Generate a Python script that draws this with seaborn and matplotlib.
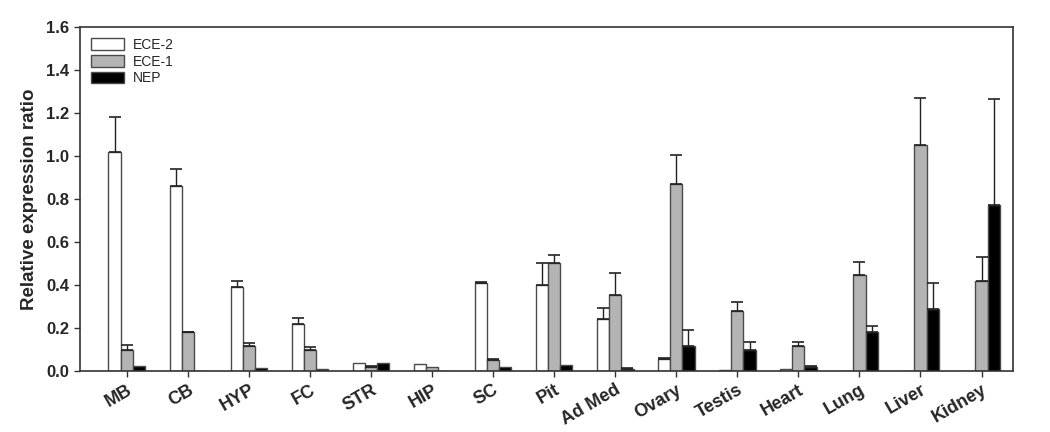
import numpy as np
import pandas as pd
import matplotlib
matplotlib.use("Agg")
import matplotlib.pyplot as plt
import seaborn as sns

# ── Data ──────────────────────────────────────────────────────────────────────
tissues = ["MB", "CB", "HYP", "FC", "STR", "HIP", "SC", "Pit", "Ad Med",
           "Ovary", "Testis", "Heart", "Lung", "Liver", "Kidney"]
series = ["ECE-2", "ECE-1", "NEP"]

ece2 = [1.02, 0.86, 0.39, 0.22, 0.038, 0.035, 0.41, 0.40, 0.24,
        0.055, 0.005, 0.012, 0.002, 0.0, 0.002]
ece1 = [0.10, 0.18, 0.115, 0.10, 0.02, 0.02, 0.05, 0.50, 0.355,
        0.87, 0.28, 0.115, 0.445, 1.05, 0.42]
nep = [0.025, 0.002, 0.015, 0.008, 0.038, 0.002, 0.02, 0.028, 0.01,
       0.115, 0.10, 0.02, 0.18, 0.29, 0.77]

# upper error (SEM) for each bar
ece2_err = [0.16, 0.08, 0.03, 0.025, 0.0, 0.0, 0.005, 0.10, 0.055,
            0.008, 0.0, 0.0, 0.0, 0.0, 0.0]
ece1_err = [0.02, 0.002, 0.015, 0.01, 0.005, 0.0, 0.005, 0.04, 0.10,
            0.135, 0.04, 0.02, 0.06, 0.22, 0.11]
nep_err = [0.0, 0.0, 0.0, 0.0, 0.0, 0.0, 0.0, 0.0, 0.005,
           0.075, 0.035, 0.005, 0.03, 0.12, 0.495]

COLORS = {"ECE-2": "#ffffff", "ECE-1": "#b4b4b4", "NEP": "#000000"}
EDGE = "#4a4a4a"

df = pd.DataFrame({
    "tissue": tissues * 3,
    "series": sum([[s] * len(tissues) for s in series], []),
    "value": ece2 + ece1 + nep,
    "err": ece2_err + ece1_err + nep_err,
})

sns.set_style("ticks")
plt.rcParams["font.family"] = ["Liberation Sans", "DejaVu Sans"]

fig = plt.figure(figsize=(10.5, 4.32), dpi=100)
ax = fig.add_axes([0.076, 0.141, 0.889, 0.797])

sns.barplot(data=df, x="tissue", y="value", hue="series", order=tissues,
            hue_order=series, palette=COLORS, width=0.6, errorbar=None,
            edgecolor=EDGE, linewidth=1.0, ax=ax)

# one-sided error bars on top of each bar
bars = ax.patches[:len(df)]
for bar, (_, row) in zip(bars, df.iterrows()):
    if row["err"] <= 0:
        continue
    xc = bar.get_x() + bar.get_width() / 2
    ax.errorbar(xc, row["value"], yerr=[[0], [row["err"]]], fmt="none",
                ecolor="#222222", elinewidth=1.0, capsize=4, capthick=1.2)

ax.set_xlim(-0.77, 14.52)
ax.set_ylim(0, 1.6)
yt = np.arange(0, 1.61, 0.2)
ax.set_yticks(yt)
ax.set_yticklabels([f"{v:.1f}" for v in yt], fontsize=12, fontweight="bold")
ax.set_xticks(range(len(tissues)))
ax.set_xticklabels(tissues, rotation=30, ha="right", rotation_mode="anchor",
                   fontsize=13, fontweight="bold")
ax.set_xlabel("")
ax.set_ylabel("Relative expression ratio", fontsize=13.5, fontweight="bold",
              labelpad=6)
ax.tick_params(axis="both", direction="out", length=4, width=1, color="#333333")
for spine in ax.spines.values():
    spine.set_visible(True)
    spine.set_color("#333333")
    spine.set_linewidth(1.2)

ax.legend(loc="upper left", frameon=False, fontsize=10, handlelength=2.4,
          handleheight=0.9, handletextpad=0.6, labelspacing=0.2,
          borderaxespad=0.4, bbox_to_anchor=(0.0, 1.0))

fig.savefig("out.png", dpi=100)
